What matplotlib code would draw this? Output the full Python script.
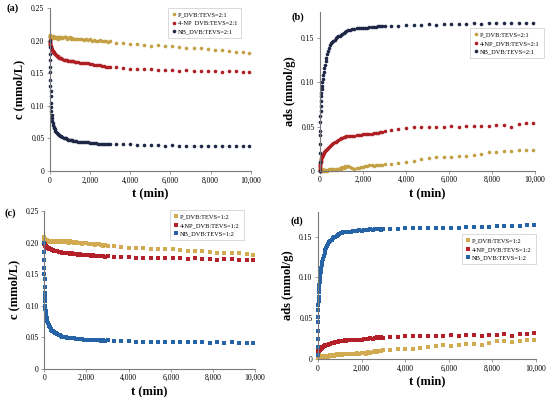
import matplotlib
matplotlib.use("Agg")
import matplotlib.pyplot as plt

plt.rcParams['font.family'] = ['Liberation Serif', 'DejaVu Serif']

# ---------------- data ----------------
t_min = [0, 2, 4, 6, 8, 10, 15, 20, 25, 30, 40, 50, 60, 75, 90, 110, 130, 150, 175, 200,
         230, 260, 300, 340, 380, 420, 470, 520, 570, 620, 680, 740, 800, 860, 920, 980,
         1040, 1100, 1160, 1230, 1300,
         1400, 1500, 1600, 1700, 1800, 1900, 2000, 2100, 2200, 2300, 2400, 2500, 2600,
         2700, 2800, 2900, 3000,
         3300, 3650, 4000, 4350, 4700, 5050, 5400, 5750, 6100, 6450, 6800, 7150, 7500,
         7850, 8200, 8550, 8900, 9250, 9600, 9900]

# (a) concentration, DVB:TEVS = 2:1
P_c21 = [0.208, 0.207, 0.205, 0.206, 0.208, 0.206, 0.205, 0.207, 0.206, 0.204, 0.206, 0.207, 0.205,
         0.206, 0.204, 0.206, 0.205, 0.207, 0.205, 0.204, 0.206, 0.205, 0.204, 0.206, 0.205, 0.203,
         0.205, 0.204, 0.206, 0.204, 0.205, 0.206, 0.205, 0.203, 0.204, 0.205, 0.202, 0.204, 0.203,
         0.202, 0.203,
         0.202, 0.203, 0.202, 0.201, 0.202, 0.201, 0.202, 0.200, 0.201, 0.199, 0.200, 0.201, 0.199,
         0.200, 0.199, 0.198, 0.199,
         0.197, 0.197, 0.195, 0.195, 0.194, 0.192, 0.193, 0.191, 0.192, 0.190, 0.189, 0.189, 0.188,
         0.187, 0.186, 0.185, 0.184, 0.183, 0.182, 0.181]
NP_c21 = [0.201, 0.199, 0.198, 0.197, 0.196, 0.195, 0.194, 0.193, 0.192, 0.191, 0.190, 0.189, 0.188,
          0.187, 0.186, 0.185, 0.184, 0.183, 0.182, 0.181, 0.180, 0.179, 0.178, 0.177, 0.176, 0.175,
          0.174, 0.173, 0.173, 0.172, 0.171, 0.171, 0.170, 0.170, 0.169, 0.169, 0.168, 0.168, 0.168,
          0.167, 0.167,
          0.167, 0.166, 0.166, 0.165, 0.165, 0.165, 0.164, 0.164, 0.163, 0.163, 0.162, 0.162, 0.161,
          0.161, 0.160, 0.160, 0.159,
          0.159, 0.158, 0.157, 0.157, 0.156, 0.156, 0.155, 0.155, 0.155, 0.154, 0.155, 0.154, 0.154,
          0.153, 0.153, 0.152, 0.153, 0.154, 0.152, 0.152]
NB_c21 = [0.200, 0.190, 0.180, 0.170, 0.160, 0.152, 0.140, 0.130, 0.122, 0.115, 0.105, 0.098, 0.092,
          0.086, 0.081, 0.077, 0.073, 0.070, 0.068, 0.066, 0.064, 0.062, 0.060, 0.059, 0.057, 0.056,
          0.055, 0.054, 0.053, 0.052, 0.051, 0.050, 0.050, 0.049, 0.048, 0.048, 0.047, 0.047, 0.046,
          0.046, 0.046,
          0.045, 0.045, 0.045, 0.044, 0.044, 0.044, 0.043, 0.043, 0.043, 0.043, 0.042, 0.042, 0.042,
          0.042, 0.042, 0.041, 0.041,
          0.041, 0.041, 0.041, 0.040, 0.040, 0.040, 0.040, 0.039, 0.040, 0.039, 0.039, 0.039, 0.038,
          0.039, 0.038, 0.038, 0.038, 0.038, 0.038, 0.038]

# (b) adsorption, DVB:TEVS = 2:1
P_a21 = [0.000, 0.001, 0.002, 0.001, 0.003, 0.002, 0.001, 0.002, 0.001, 0.000, 0.001, 0.002, 0.001,
         0.000, 0.001, 0.002, 0.001, 0.000, 0.001, 0.000, 0.001, 0.000, 0.001, 0.000, 0.001, 0.002,
         0.001, 0.002, 0.001, 0.002, 0.001, 0.002, 0.001, 0.002, 0.003, 0.002, 0.004, 0.003, 0.005,
         0.004, 0.005,
         0.004, 0.003, 0.002, 0.003, 0.003, 0.004, 0.004, 0.005, 0.005, 0.006, 0.006, 0.005, 0.006,
         0.007, 0.006, 0.007, 0.008,
         0.008, 0.009, 0.010, 0.011, 0.013, 0.014, 0.015, 0.016, 0.016, 0.017, 0.017, 0.018, 0.019,
         0.021, 0.021, 0.022, 0.022, 0.023, 0.024, 0.023]
NP_a21 = [0.000, 0.002, 0.004, 0.005, 0.006, 0.007, 0.008, 0.009, 0.010, 0.011, 0.012, 0.013, 0.014,
          0.015, 0.016, 0.017, 0.018, 0.019, 0.020, 0.021, 0.022, 0.023, 0.024, 0.025, 0.026, 0.027,
          0.028, 0.029, 0.030, 0.031, 0.032, 0.033, 0.034, 0.035, 0.036, 0.037, 0.037, 0.038, 0.038,
          0.039, 0.039,
          0.039, 0.039, 0.039, 0.040, 0.040, 0.040, 0.041, 0.041, 0.042, 0.042, 0.042, 0.043, 0.043,
          0.043, 0.044, 0.044, 0.045,
          0.046, 0.047, 0.048, 0.049, 0.049, 0.050, 0.050, 0.050, 0.051, 0.050, 0.051, 0.051, 0.051,
          0.051, 0.052, 0.052, 0.049, 0.053, 0.054, 0.054]
NB_a21 = [0.000, 0.010, 0.020, 0.030, 0.040, 0.045, 0.055, 0.062, 0.068, 0.073, 0.079, 0.084, 0.088,
          0.092, 0.096, 0.100, 0.104, 0.108, 0.112, 0.116, 0.120, 0.124, 0.128, 0.132, 0.136, 0.139,
          0.142, 0.145, 0.146, 0.147, 0.148, 0.150, 0.151, 0.152, 0.153, 0.154, 0.155, 0.156, 0.157,
          0.158, 0.159,
          0.159, 0.160, 0.160, 0.161, 0.161, 0.161, 0.162, 0.162, 0.162, 0.163, 0.163, 0.163, 0.163,
          0.164, 0.164, 0.164, 0.164,
          0.164, 0.164, 0.165, 0.165, 0.165, 0.166, 0.165, 0.166, 0.166, 0.166, 0.166, 0.167, 0.166,
          0.167, 0.167, 0.167, 0.167, 0.167, 0.167, 0.167]

# (c) concentration, DVB:TEVS = 1:2
P_c12 = [0.208, 0.206, 0.205, 0.207, 0.204, 0.206, 0.205, 0.203, 0.204, 0.206, 0.203, 0.205, 0.204,
         0.203, 0.202, 0.204, 0.203, 0.202, 0.203, 0.201, 0.203, 0.202, 0.201, 0.203, 0.202, 0.201,
         0.202, 0.203, 0.201, 0.202, 0.201, 0.202, 0.203, 0.201, 0.202, 0.201, 0.202, 0.201, 0.200,
         0.202, 0.201,
         0.200, 0.201, 0.199, 0.200, 0.198, 0.199, 0.200, 0.198, 0.197, 0.198, 0.196, 0.197, 0.198,
         0.196, 0.195, 0.196, 0.195,
         0.194, 0.193, 0.192, 0.191, 0.191, 0.190, 0.189, 0.189, 0.189, 0.188, 0.186, 0.186, 0.187,
         0.185, 0.183, 0.184, 0.184, 0.183, 0.182, 0.181]
NP_c12 = [0.200, 0.200, 0.199, 0.199, 0.198, 0.198, 0.198, 0.197, 0.197, 0.196, 0.196, 0.195, 0.195,
          0.194, 0.194, 0.193, 0.192, 0.192, 0.191, 0.191, 0.190, 0.190, 0.189, 0.189, 0.188, 0.188,
          0.187, 0.187, 0.186, 0.186, 0.185, 0.185, 0.185, 0.184, 0.184, 0.184, 0.183, 0.183, 0.183,
          0.182, 0.183,
          0.182, 0.182, 0.181, 0.182, 0.181, 0.180, 0.181, 0.180, 0.179, 0.180, 0.179, 0.178, 0.179,
          0.178, 0.178, 0.177, 0.178,
          0.177, 0.177, 0.177, 0.176, 0.176, 0.176, 0.175, 0.175, 0.176, 0.175, 0.174, 0.175, 0.174,
          0.174, 0.173, 0.174, 0.174, 0.173, 0.173, 0.172]
NB_c12 = [0.200, 0.185, 0.172, 0.160, 0.150, 0.142, 0.130, 0.120, 0.113, 0.107, 0.100, 0.095, 0.091,
          0.087, 0.083, 0.080, 0.077, 0.075, 0.072, 0.070, 0.068, 0.066, 0.063, 0.061, 0.060, 0.059,
          0.058, 0.057, 0.056, 0.055, 0.054, 0.053, 0.052, 0.051, 0.051, 0.050, 0.050, 0.049, 0.049,
          0.048, 0.048,
          0.048, 0.047, 0.047, 0.047, 0.047, 0.046, 0.046, 0.046, 0.046, 0.045, 0.045, 0.045, 0.045,
          0.044, 0.045, 0.044, 0.045,
          0.044, 0.044, 0.044, 0.043, 0.043, 0.043, 0.043, 0.043, 0.043, 0.042, 0.042, 0.042, 0.042,
          0.041, 0.042, 0.041, 0.042, 0.041, 0.041, 0.041]

# (d) adsorption, DVB:TEVS = 1:2
P_a12 = [0.002, 0.004, 0.006, 0.005, 0.007, 0.006, 0.005, 0.006, 0.004, 0.005, 0.004, 0.005, 0.004,
         0.003, 0.004, 0.003, 0.004, 0.003, 0.004, 0.003, 0.004, 0.003, 0.004, 0.003, 0.004, 0.004,
         0.003, 0.004, 0.005, 0.004, 0.005, 0.004, 0.005, 0.006, 0.005, 0.006, 0.006, 0.005, 0.006,
         0.007, 0.006,
         0.007, 0.007, 0.006, 0.007, 0.008, 0.007, 0.008, 0.008, 0.007, 0.009, 0.008, 0.009, 0.010,
         0.009, 0.010, 0.010, 0.011,
         0.011, 0.012, 0.013, 0.013, 0.014, 0.015, 0.016, 0.017, 0.016, 0.018, 0.019, 0.019, 0.018,
         0.020, 0.022, 0.022, 0.021, 0.022, 0.023, 0.024]
NP_a12 = [0.008, 0.009, 0.008, 0.010, 0.009, 0.008, 0.010, 0.009, 0.010, 0.011, 0.010, 0.011, 0.012,
          0.011, 0.012, 0.013, 0.013, 0.014, 0.014, 0.015, 0.015, 0.016, 0.016, 0.017, 0.017, 0.018,
          0.018, 0.019, 0.019, 0.020, 0.020, 0.020, 0.021, 0.021, 0.021, 0.022, 0.022, 0.022, 0.022,
          0.023, 0.022,
          0.023, 0.023, 0.023, 0.024, 0.023, 0.024, 0.024, 0.025, 0.025, 0.025, 0.026, 0.025, 0.026,
          0.027, 0.026, 0.027, 0.026,
          0.027, 0.027, 0.028, 0.028, 0.028, 0.029, 0.028, 0.029, 0.030, 0.029, 0.030, 0.030, 0.029,
          0.030, 0.030, 0.031, 0.029, 0.031, 0.031, 0.032]
NB_a12 = [0.005, 0.015, 0.025, 0.035, 0.045, 0.052, 0.060, 0.066, 0.071, 0.076, 0.082, 0.087, 0.091,
          0.095, 0.099, 0.103, 0.107, 0.111, 0.115, 0.119, 0.123, 0.126, 0.130, 0.133, 0.136, 0.139,
          0.141, 0.143, 0.145, 0.146, 0.148, 0.149, 0.150, 0.151, 0.152, 0.153, 0.154, 0.154, 0.155,
          0.155, 0.156,
          0.156, 0.156, 0.157, 0.157, 0.157, 0.158, 0.157, 0.158, 0.158, 0.158, 0.159, 0.158, 0.159,
          0.159, 0.159, 0.158, 0.159,
          0.159, 0.159, 0.160, 0.160, 0.161, 0.160, 0.160, 0.161, 0.161, 0.161, 0.162, 0.162, 0.162,
          0.162, 0.163, 0.163, 0.163, 0.163, 0.164, 0.164]

labels_21 = ["P_DVB:TEVS=2:1", "4-NP  DVB:TEVS=2:1", "NB_DVB:TEVS=2:1"]
labels_21b = ["P_DVB:TEVS=2:1", "4-NP_DVB:TEVS=2:1", "NB_DVB:TEVS=2:1"]
labels_12 = ["P_DVB:TEVS=1:2", "4-NP_DVB:TEVS=1:2", "NB_DVB:TEVS=1:2"]

xticks = [0, 2000, 4000, 6000, 8000, 10000]
xticklabels = ["0", "2,000", "4,000", "6,000", "8,000", "10,000"]
c_ticks = [0, 0.05, 0.10, 0.15, 0.20, 0.25]
c_ticklabels = ["0", "0.05", "0.10", "0.15", "0.20", "0.25"]
a_ticks = [0, 0.05, 0.10, 0.15]
a_ticklabels = ["0", "0.05", "0.10", "0.15"]

# ---------------- styling ----------------
W, H = 550, 397
fig = plt.figure(figsize=(W / 100, H / 100), dpi=100)
fig.patch.set_facecolor("white")

col_P1, col_NP1, col_NB1 = "#C4A044", "#AD1F24", "#1E2746"
col_P2, col_NP2, col_NB2 = "#D2AA52", "#B3202A", "#2563A6"


def px_axes(x0, x1, ytop, ybot):
    return fig.add_axes([x0 / W, 1 - ybot / H, (x1 - x0) / W, (ybot - ytop) / H])


def style(ax, ylim, yticks, yticklabels, ylabel):
    ax.set_xlim(0, 10000)
    ax.set_ylim(*ylim)
    ax.set_xticks(xticks)
    ax.set_xticklabels(xticklabels)
    ax.set_yticks(yticks)
    ax.set_yticklabels(yticklabels)
    for s in ("top", "right"):
        ax.spines[s].set_visible(False)
    for s in ("left", "bottom"):
        ax.spines[s].set_color("#7a7a7a")
        ax.spines[s].set_linewidth(0.8)
    ax.tick_params(axis="both", labelsize=5.5, length=2, width=0.5, color="#7a7a7a", pad=2)
    ax.set_xlabel("t (min)", fontsize=9, fontweight="bold", labelpad=2)
    ax.set_ylabel(ylabel, fontsize=9, fontweight="bold", labelpad=4)


def draw(ax, series, colors, labels, marker, ms):
    handles = []
    for y, c, lab in zip(series, colors, labels):
        h, = ax.plot(t_min, y, linestyle="none", marker=marker, ms=ms, color=c,
                     markeredgewidth=0, label=lab, clip_on=False)
        handles.append(h)
    return handles


def legend(ax, handles, x0, ytop, loc="upper left"):
    leg = ax.legend(handles=handles, loc=loc, bbox_to_anchor=(x0 / W, 1 - ytop / H),
                    bbox_transform=fig.transFigure, fontsize=4.6, frameon=True,
                    fancybox=False, edgecolor="#c8c8c8", handlelength=0.6,
                    handletextpad=0.4, labelspacing=0.5, borderpad=0.6,
                    markerscale=1.0, borderaxespad=0)
    leg.get_frame().set_linewidth(0.6)


# (a)
axA = px_axes(50, 250.7, 8, 171)
h = draw(axA, [P_c21, NP_c21, NB_c21], [col_P1, col_NP1, col_NB1], labels_21, "o", 2.6)
style(axA, (0, 0.25), c_ticks, c_ticklabels, "c (mmol/L)")
legend(axA, h, 168, 8)

# (b)
axB = px_axes(320, 535, 11.7, 170.7)
h = draw(axB, [P_a21, NP_a21, NB_a21], [col_P1, col_NP1, col_NB1], labels_21b, "o", 2.6)
style(axB, (0, 0.18), a_ticks, a_ticklabels, "ads (mmol/g)")
legend(axB, h, 470, 28)

# (c)
axC = px_axes(44.3, 255, 211, 368.7)
h = draw(axC, [P_c12, NP_c12, NB_c12], [col_P2, col_NP2, col_NB2], labels_12, "s", 2.9)
style(axC, (0, 0.25), c_ticks, c_ticklabels, "c (mmol/L)")
legend(axC, h, 170, 210)

# (d)
axD = px_axes(318, 536, 212, 359.3)
h = draw(axD, [P_a12, NP_a12, NB_a12], [col_P2, col_NP2, col_NB2], labels_12, "s", 2.9)
style(axD, (0, 0.18), a_ticks, a_ticklabels, "ads (mmol/g)")
legend(axD, h, 462, 234)

# panel letters
for txt, x, y in [("(a)", 13, 8), ("(b)", 298, 17), ("(c)", 10, 213), ("(d)", 297, 221)]:
    fig.text(x / W, 1 - y / H, txt, fontsize=7.5, fontweight="bold", ha="center", va="center")

fig.savefig("out.png", dpi=100, facecolor="white")
